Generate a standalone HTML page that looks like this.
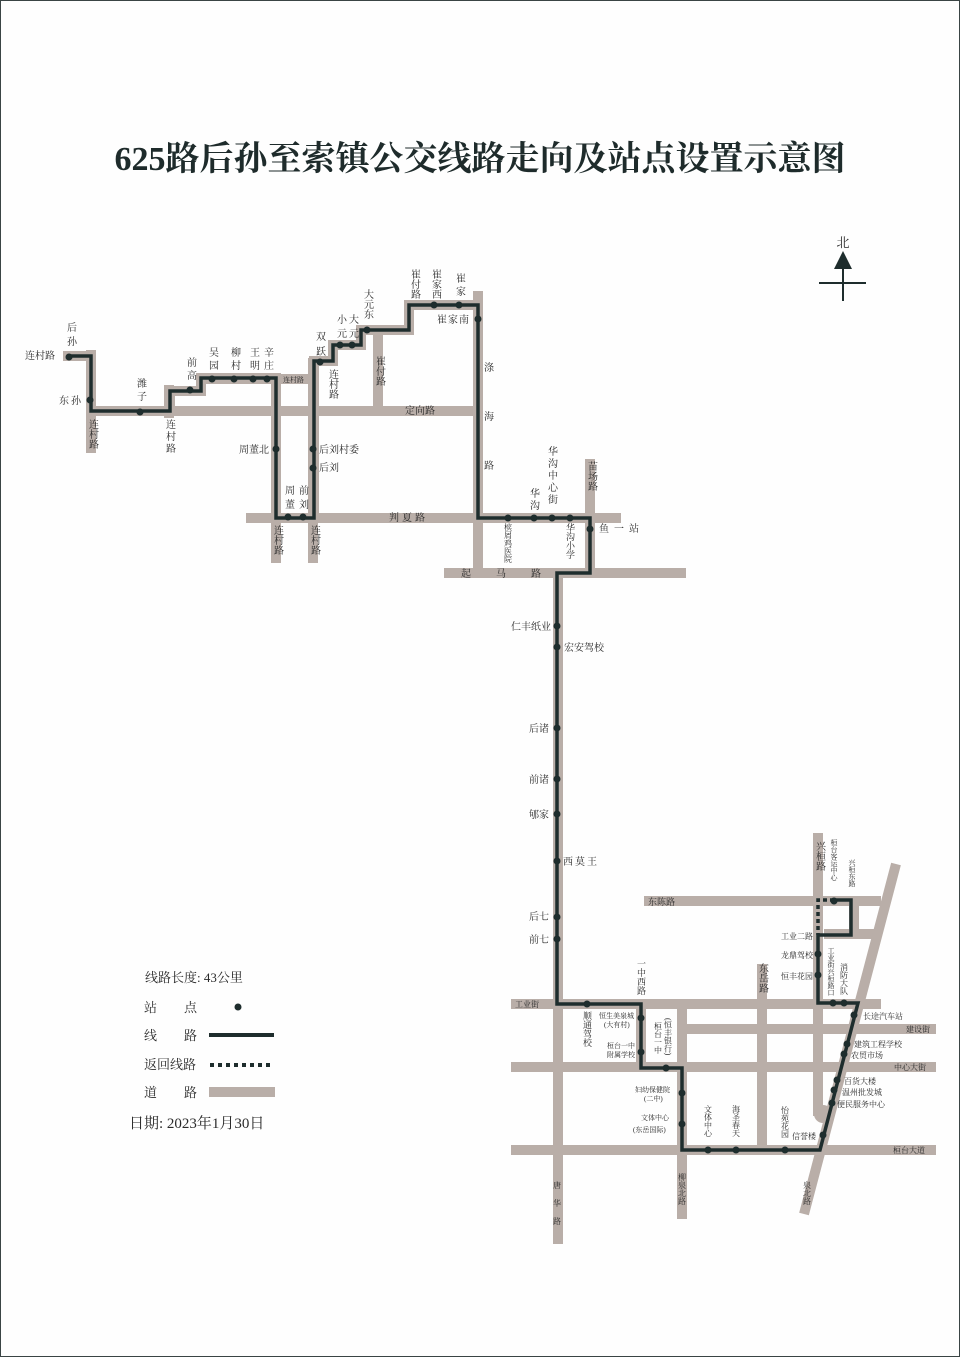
<!DOCTYPE html>
<html><head><meta charset="utf-8"><style>
html,body{margin:0;padding:0;background:#fff}
.wrap{position:relative;width:958px;height:1355px;border:1px solid #3a4444;overflow:hidden;background:#fefefe}
.title{position:absolute;left:0;width:958px;top:130px;text-align:center;font-family:"Liberation Serif","Noto Serif CJK SC",serif;font-weight:bold;font-size:34px;color:#1e2b2b;letter-spacing:0px}
svg{position:absolute;left:0;top:0}
text{font-family:"Liberation Serif","Noto Serif CJK SC",serif;fill:#2a2a2a}
.v{writing-mode:tb}
</style></head><body><div class="wrap">
<div class="title">625路后孙至索镇公交线路走向及站点设置示意图</div>
<svg width="960" height="1357" viewBox="0 0 960 1357">
<g stroke="#b9aea8" stroke-width="10" fill="none" stroke-linecap="butt">
<!-- roads along route -->
<polyline points="62,355 90,355 90,410 169,410 169,390 200,390 200,377 275,377 275,517 313,517 313,360 332,360 332,344 360,344 360,329 408,329 408,304 477,304"/>
<line x1="90" y1="349" x2="90" y2="452"/>
<line x1="85" y1="410" x2="482" y2="410"/>
<line x1="168" y1="384" x2="168" y2="417"/>
<line x1="200" y1="378" x2="317" y2="378"/>
<line x1="275" y1="373" x2="275" y2="562"/>
<line x1="312" y1="357" x2="312" y2="562"/>
<line x1="245" y1="517" x2="620" y2="517"/>
<line x1="377" y1="332" x2="377" y2="405"/>
<line x1="477" y1="290" x2="477" y2="577"/>
<line x1="443" y1="572" x2="685" y2="572"/>
<line x1="589" y1="458" x2="589" y2="572"/>
<line x1="557" y1="567" x2="557" y2="1243"/>
<!-- bottom -->
<line x1="510" y1="1003" x2="880" y2="1003"/>
<line x1="685" y1="1028" x2="935" y2="1028"/>
<line x1="510" y1="1066" x2="935" y2="1066"/>
<line x1="510" y1="1149" x2="935" y2="1149"/>
<line x1="681" y1="1003" x2="681" y2="1218"/>
<line x1="640" y1="1003" x2="640" y2="1066"/>
<line x1="761" y1="963" x2="761" y2="1149"/>
<line x1="817" y1="832" x2="817" y2="1115"/>
<line x1="643" y1="900" x2="880" y2="900"/>
<line x1="823" y1="933" x2="880" y2="933"/>
<line x1="853" y1="900" x2="853" y2="933"/>
<line x1="895" y1="863" x2="803" y2="1213"/>
</g>
<circle cx="822" cy="1113" r="9" fill="#b9aea8"/>
<!-- route -->
<polyline fill="none" stroke="#1e2d2d" stroke-width="3.5" stroke-linejoin="miter" points="68,355 90,355 90,410 169,410 169,390 200,390 200,377 275,377 275,517 313,517 313,360 332,360 332,344 360,344 360,329 408,329 408,304 477,304 477,517 589,517 589,572 556,572 556,1003 640,1003 640,1067 681,1067 681,1149 819,1149 857,1002 817,1002 817,934 850,934 850,899 833,899"/>
<polyline fill="none" stroke="#1e2d2d" stroke-width="3.5" stroke-dasharray="4,3" points="833,899 817,899 817,934"/>
<g fill="#1e2d2d">
<circle cx="68" cy="356" r="3.5"/><circle cx="89" cy="399" r="3.5"/><circle cx="139" cy="411" r="3.5"/><circle cx="189" cy="389" r="3.5"/><circle cx="211" cy="378" r="3.5"/><circle cx="233" cy="378" r="3.5"/><circle cx="252" cy="378" r="3.5"/><circle cx="266" cy="378" r="3.5"/><circle cx="275" cy="448" r="3.5"/><circle cx="312" cy="448" r="3.5"/><circle cx="312" cy="467" r="3.5"/><circle cx="287" cy="516" r="3.5"/><circle cx="302" cy="516" r="3.5"/><circle cx="319" cy="361" r="3.5"/><circle cx="339" cy="344" r="3.5"/><circle cx="351" cy="344" r="3.5"/><circle cx="366" cy="329" r="3.5"/><circle cx="433" cy="304" r="3.5"/><circle cx="458" cy="304" r="3.5"/><circle cx="477" cy="318" r="3.5"/>
<circle cx="507" cy="517" r="3.5"/><circle cx="533" cy="517" r="3.5"/><circle cx="551" cy="517" r="3.5"/><circle cx="569" cy="517" r="3.5"/><circle cx="589" cy="528" r="3.5"/>
<circle cx="556" cy="625" r="3.5"/><circle cx="556" cy="646" r="3.5"/><circle cx="556" cy="727" r="3.5"/><circle cx="556" cy="778" r="3.5"/><circle cx="556" cy="813" r="3.5"/><circle cx="556" cy="860" r="3.5"/><circle cx="556" cy="916" r="3.5"/><circle cx="556" cy="938" r="3.5"/>
<circle cx="586" cy="1003" r="3.5"/><circle cx="640" cy="1017" r="3.5"/><circle cx="640" cy="1051" r="3.5"/><circle cx="665" cy="1067" r="3.5"/><circle cx="681" cy="1092" r="3.5"/><circle cx="681" cy="1123" r="3.5"/><circle cx="707" cy="1149" r="3.5"/><circle cx="735" cy="1149" r="3.5"/><circle cx="784" cy="1149" r="3.5"/><circle cx="822" cy="1134" r="3.5"/><circle cx="831" cy="1102" r="3.5"/><circle cx="833" cy="1089" r="3.5"/><circle cx="836" cy="1079" r="3.5"/><circle cx="843" cy="1053" r="3.5"/><circle cx="846" cy="1043" r="3.5"/><circle cx="853" cy="1014" r="3.5"/><circle cx="843" cy="1002" r="3.5"/><circle cx="832" cy="1002" r="3.5"/><circle cx="817" cy="974" r="3.5"/><circle cx="817" cy="953" r="3.5"/><circle cx="833" cy="900" r="3.5"/>
</g>
<!-- north -->
<text x="842" y="246" font-size="13" text-anchor="middle">北</text>
<polygon points="842,250 833,268 851,268" fill="#1e2d2d"/>
<line x1="842" y1="266" x2="842" y2="300" stroke="#1e2d2d" stroke-width="2"/>
<line x1="818" y1="282" x2="865" y2="282" stroke="#1e2d2d" stroke-width="2"/>
<!-- labels top-left -->
<g font-size="10">
<text class="v" x="69" y="321" letter-spacing="4">后孙</text>
<text x="24" y="358">连村路</text>
<text x="58" y="403" letter-spacing="2">东孙</text>
<text class="v" x="91" y="418">连村路</text>
<text class="v" x="139" y="377" letter-spacing="3">潍子</text>
<text class="v" x="168" y="418" letter-spacing="2">连村路</text>
<text class="v" x="189" y="356" letter-spacing="3">前高</text>
<text class="v" x="211" y="346" letter-spacing="3">吴园</text>
<text class="v" x="233" y="346" letter-spacing="3">柳村</text>
<text class="v" x="252" y="346" letter-spacing="3">王明</text>
<text class="v" x="266" y="346" letter-spacing="3">辛庄</text>
<text x="282" y="381" font-size="7">连村路</text>
<text x="268" y="452" text-anchor="end">周董北</text>
<text x="318" y="452">后刘村委</text>
<text x="318" y="470">后刘</text>
<text class="v" x="287" y="484" letter-spacing="4">周董</text>
<text class="v" x="301" y="484" letter-spacing="4">前刘</text>
<text class="v" x="276" y="524">连村路</text>
<text class="v" x="313" y="524">连村路</text>
<text x="388" y="520" letter-spacing="3">判夏路</text>
<text class="v" x="318" y="330" letter-spacing="5">双跃</text>
<text class="v" x="331" y="368">连村路</text>
<text class="v" x="339" y="313" letter-spacing="4">小元</text>
<text class="v" x="351" y="313" letter-spacing="4">大元</text>
<text class="v" x="366" y="288">大元东</text>
<text class="v" x="378" y="355">崔付路</text>
<text class="v" x="413" y="268">崔付路</text>
<text class="v" x="434" y="268">崔家西</text>
<text class="v" x="458" y="272" letter-spacing="3">崔家</text>
<text x="436" y="322" letter-spacing="1">崔家南</text>
<text x="404" y="413">定向路</text>
<text x="483" y="370">涤</text><text x="483" y="419">海</text><text x="483" y="468">路</text>
<text class="v" x="550" y="445" letter-spacing="2">华沟中心街</text>
<text class="v" x="532" y="487" letter-spacing="2">华沟</text>
<text class="v" x="590" y="460">苗场路</text>
<text x="598" y="531" letter-spacing="5">鱼一站</text>
<text class="v" x="507" y="522" font-size="8">槟屑鸡医院</text>
<text class="v" x="569" y="522" font-size="9">华沟小学</text>
<text x="460" y="576" letter-spacing="25">起马路</text>
<text x="550" y="629" text-anchor="end">仁丰纸业</text>
<text x="563" y="650">宏安驾校</text>
<text x="548" y="731" text-anchor="end">后诸</text>
<text x="548" y="782" text-anchor="end">前诸</text>
<text x="548" y="817" text-anchor="end">郇家</text>
<text x="562" y="864" letter-spacing="2">西莫王</text>
<text x="548" y="919" text-anchor="end">后七</text>
<text x="548" y="942" text-anchor="end">前七</text>
</g>
<!-- labels bottom -->
<g font-size="9">
<text class="v" x="640" y="958">一中西路</text>
<text class="v" x="761" y="962" font-size="10">东岳路</text>
<text class="v" x="818" y="840" font-size="10">兴桓路</text>
<text class="v" x="833" y="838" font-size="7">桓台客运中心</text>
<text class="v" x="851" y="858" font-size="7">兴桓东路</text>
<text x="647" y="904">东陈路</text>
<text x="812" y="938" text-anchor="end" font-size="8">工业二路</text>
<text x="812" y="957" text-anchor="end" font-size="8">龙鼎驾校</text>
<text x="812" y="978" text-anchor="end" font-size="8">恒丰花园</text>
<text class="v" x="830" y="946" font-size="7">工业街兴桓路口</text>
<text class="v" x="843" y="962" font-size="8">消防大队</text>
<text x="862" y="1018" font-size="8">长途汽车站</text>
<text x="905" y="1031" font-size="8">建设街</text>
<text x="853" y="1046" font-size="8">建筑工程学校</text>
<text x="850" y="1057" font-size="8">农贸市场</text>
<text x="893" y="1069" font-size="8">中心大街</text>
<text x="843" y="1083" font-size="8">百货大楼</text>
<text x="841" y="1094" font-size="8">温州批发城</text>
<text x="836" y="1106" font-size="8">便民服务中心</text>
<text x="892" y="1152" font-size="8">桓台大道</text>
<text class="v" x="806" y="1180" font-size="8">泉北路</text>
<text x="815" y="1138" text-anchor="end" font-size="8">信誉楼</text>
<text class="v" x="784" y="1105" font-size="8">怡苑花园</text>
<text class="v" x="735" y="1104" font-size="8">海圣春天</text>
<text class="v" x="707" y="1104" font-size="8">文体中心</text>
<text class="v" x="681" y="1172" font-size="8">柳泉北路</text>
<text class="v" x="556" y="1180" font-size="8" letter-spacing="10">唐华路</text>
<text x="514" y="1006" font-size="8">工业街</text>
<text class="v" x="586" y="1010" font-size="9">顺通驾校</text>
<text x="598" y="1017" font-size="7">恒生美泉城</text>
<text x="603" y="1026" font-size="7">(大有村)</text>
<text x="606" y="1047" font-size="7">桓台一中</text>
<text x="606" y="1056" font-size="7">附属学校</text>
<text class="v" x="667" y="1017" font-size="8">(恒丰银行)</text>
<text class="v" x="657" y="1021" font-size="8">桓台一中</text>
<text x="634" y="1091" font-size="7">妇幼保健院</text>
<text x="643" y="1100" font-size="7">(二中)</text>
<text x="640" y="1119" font-size="7">文体中心</text>
<text x="632" y="1131" font-size="7">(东岳国际)</text>
</g>
<!-- legend -->
<g font-size="13">
<text x="144" y="981">线路长度: 43公里</text>
<text x="143" y="1011">站</text><text x="183" y="1011">点</text>
<circle cx="237" cy="1006" r="3.5" fill="#1e2d2d"/>
<text x="143" y="1039">线</text><text x="183" y="1039">路</text>
<line x1="208" y1="1034" x2="273" y2="1034" stroke="#1e2d2d" stroke-width="4"/>
<text x="143" y="1068">返回线路</text>
<line x1="209" y1="1064" x2="273" y2="1064" stroke="#1e2d2d" stroke-width="4" stroke-dasharray="4,4"/>
<text x="143" y="1096">道</text><text x="183" y="1096">路</text>
<rect x="208" y="1086" width="66" height="10" fill="#b9aea8"/>
<text x="128" y="1127" font-size="15">日期: 2023年1月30日</text>
</g>
</svg>
</div></body></html>
